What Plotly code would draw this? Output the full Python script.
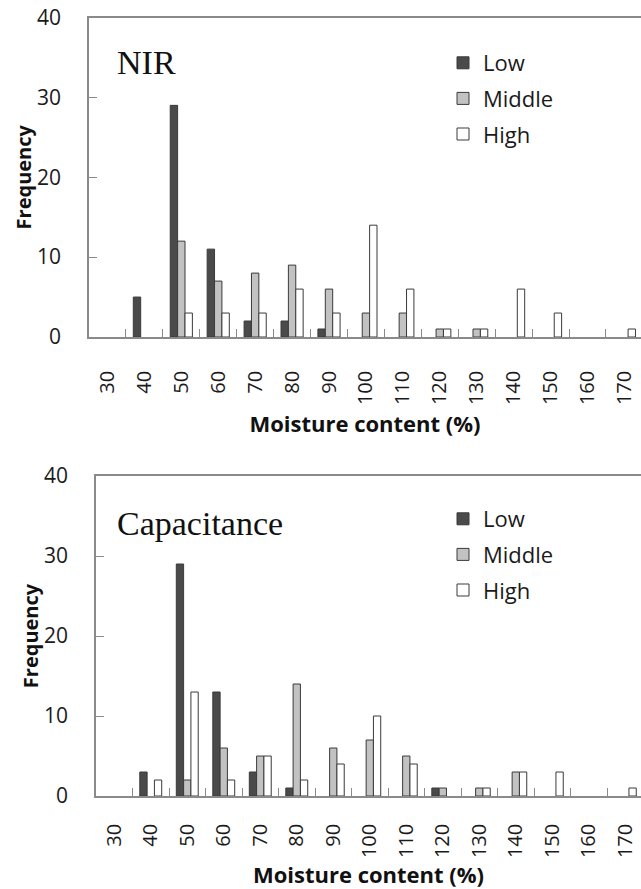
import plotly.graph_objects as go

categories = ["30", "40", "50", "60", "70", "80", "90", "100", "110", "120",
              "130", "140", "150", "160", "170"]

nir_low = [0, 5, 29, 11, 2, 2, 1, 0, 0, 0, 0, 0, 0, 0, 0]
nir_middle = [0, 0, 12, 7, 8, 9, 6, 3, 3, 1, 1, 0, 0, 0, 0]
nir_high = [0, 0, 3, 3, 3, 6, 3, 14, 6, 1, 1, 6, 3, 0, 1]

cap_low = [0, 3, 29, 13, 3, 1, 0, 0, 0, 1, 0, 0, 0, 0, 0]
cap_middle = [0, 0, 2, 6, 5, 14, 6, 7, 5, 1, 1, 3, 0, 0, 0]
cap_high = [0, 2, 13, 2, 5, 2, 4, 10, 4, 0, 1, 3, 3, 0, 1]

series_names = ["Low", "Middle", "High"]
fill_colors = ["#4a4a4a", "#c2c2c2", "#ffffff"]
edge_color = "#3a3a3a"

# figure fills the whole page (body margin removed by post_script)
W, H = 641, 889
FONT = "Open Sans"
AX = "#8a8a8a"


def xp(px):
    return px / W


def yp(py):
    return 1 - py / H


fig = go.Figure()

panels = [
    (nir_low, nir_middle, nir_high, "x", "y", "legend"),
    (cap_low, cap_middle, cap_high, "x2", "y2", "legend2"),
]
for low, mid, high, xa, ya, lg in panels:
    for name, vals, col in zip(series_names, [low, mid, high], fill_colors):
        fig.add_trace(go.Bar(
            x=categories, y=[v if v else None for v in vals],
            name=name, xaxis=xa, yaxis=ya,
            legend=lg, legendgroup=lg + name,
            marker=dict(color=col, line=dict(color=edge_color, width=1)),
            hoverinfo="x+y+name",
        ))


def xaxis_cfg(left_px, rng_hi, lab_standoff, title_standoff):
    return dict(
        domain=[xp(left_px), 1], type="category", range=[-0.5, rng_hi],
        automargin=False,
        showline=True, linecolor=AX, linewidth=1.5, mirror=True,
        ticks="inside", ticklen=8, tickcolor=AX, tickwidth=1.2,
        tickson="boundaries", tickangle=-90, showgrid=False,
        tickfont=dict(family=FONT, size=20, color="#1a1a1a"),
        ticklabelstandoff=lab_standoff, ticklabeloverflow="allow",
        title=dict(text="<b>Moisture content (%)</b>", standoff=title_standoff,
                   font=dict(family=FONT, size=22, color="#111111")),
    )


def yaxis_cfg(top_px, bot_px):
    return dict(
        domain=[yp(bot_px), yp(top_px)], range=[0, 40], dtick=10,
        automargin=False,
        showline=True, linecolor=AX, linewidth=1.5,
        ticks="inside", ticklen=8, tickcolor=AX, tickwidth=1.2,
        showgrid=False, zeroline=False,
        tickfont=dict(family=FONT, size=21, color="#1a1a1a"),
        ticklabelstandoff=22, ticklabeloverflow="allow",
        title=dict(text="<b>Frequency</b>", standoff=0,
                   font=dict(family=FONT, size=20, color="#111111")),
    )


def legend_cfg(top_px):
    return dict(
        x=xp(443), y=yp(top_px), xanchor="left", yanchor="top",
        bgcolor="rgba(0,0,0,0)", tracegroupgap=4,
        font=dict(family=FONT, size=22, color="#1a1a1a"),
    )


fig.update_layout(
    width=W, height=H, margin=dict(l=0, r=0, t=0, b=0, autoexpand=False),
    paper_bgcolor="white", plot_bgcolor="white",
    barmode="group", bargap=0.4, bargroupgap=0,
    showlegend=True,
    xaxis=dict(anchor="y", **xaxis_cfg(89, 14.45, 24, 13)),
    yaxis=dict(anchor="x", **yaxis_cfg(17.5, 337)),
    xaxis2=dict(anchor="y2", **xaxis_cfg(96, 14.43, 18, 18)),
    yaxis2=dict(anchor="x2", **yaxis_cfg(476, 796)),
    legend=legend_cfg(42),
    legend2=legend_cfg(498),
    annotations=[
        dict(text="NIR", x=xp(115), y=yp(62), xref="paper", yref="paper",
             xanchor="left", yanchor="middle", showarrow=False,
             font=dict(family="Liberation Serif", size=34, color="#111111")),
        dict(text="Capacitance", x=xp(115), y=yp(523), xref="paper", yref="paper",
             xanchor="left", yanchor="middle", showarrow=False,
             font=dict(family="Liberation Serif", size=34, color="#111111")),
    ],
)

fig.write_html(
    "out.html",
    config={"displayModeBar": False},
    post_script="document.body.style.margin='0';document.body.style.overflow='hidden';",
)
